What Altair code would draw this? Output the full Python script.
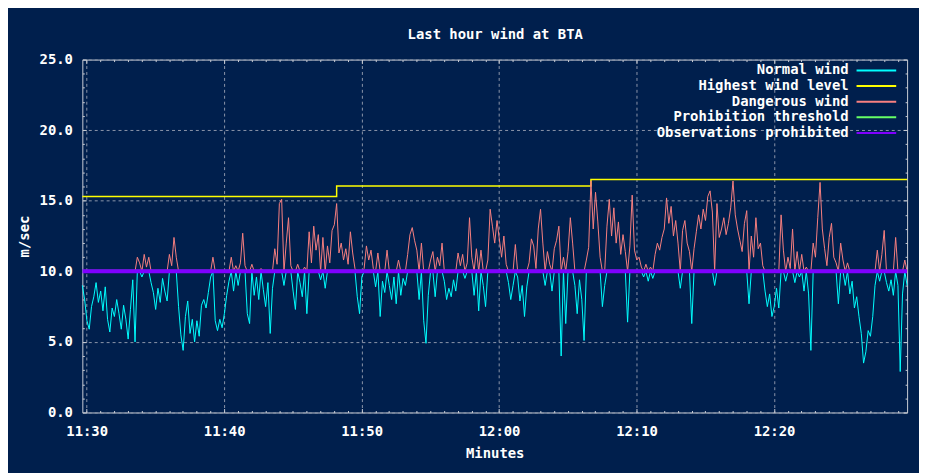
import altair as alt
import pandas as pd

# ---------------- data ----------------
wind = [
    9.0, 8.0, 6.5, 5.9, 7.5, 8.2, 9.2, 7.8, 8.6, 7.2,
    8.9, 6.6, 5.7, 7.4, 6.8, 8.0, 7.0, 5.9, 7.6, 6.6,
    5.2, 7.3, 9.4, 5.0, 11.0, 10.6, 9.6, 11.2, 10.3, 11.0,
    9.2, 8.5, 7.3, 8.8, 7.8, 9.5, 8.6, 7.9, 11.2, 10.4,
    12.4, 11.0, 7.5, 5.5, 4.4, 6.8, 7.9, 5.6, 6.6, 5.0,
    6.5, 5.4, 7.6, 8.0, 7.4, 8.5, 9.6, 11.0, 6.5, 5.8,
    6.6, 6.0, 7.0, 8.3, 9.3, 11.0, 8.6, 10.4, 9.0, 10.6,
    12.7, 10.4, 7.0, 6.3, 10.5, 8.3, 9.6, 8.0, 10.2, 8.7,
    7.5, 9.2, 5.6, 8.8, 11.6, 10.5, 14.8, 15.1, 9.0, 12.0,
    13.8, 10.4, 8.6, 7.3, 10.5, 9.2, 8.2, 10.3, 7.0, 12.8,
    10.6, 13.2, 11.5, 12.6, 9.4, 12.4, 8.8, 11.8, 10.6, 12.9,
    13.3, 14.8, 11.3, 12.0, 10.8, 11.6, 10.5, 12.8, 11.3, 10.2,
    8.2, 7.0, 9.6, 10.2, 11.8, 10.8, 11.5, 10.2, 8.9, 11.3,
    6.8, 9.3, 8.5, 11.5, 9.0, 8.0, 9.6, 7.7, 10.8, 8.3,
    9.5, 9.0, 11.2, 12.6, 13.1, 12.2, 11.5, 8.0, 12.0, 6.5,
    4.9, 8.3, 10.8, 11.4, 8.2, 11.0, 10.4, 12.0, 9.3, 8.0,
    8.8, 8.2, 9.4, 8.6, 11.3, 10.4, 11.2, 9.5, 10.6, 13.8,
    11.0, 8.3, 11.6, 7.2, 11.5, 9.0, 7.5, 10.8, 14.4, 13.2,
    12.0, 13.6, 12.3, 11.0, 12.5, 10.5, 9.2, 8.0, 9.0, 11.9,
    9.6, 7.9, 9.0, 6.8, 8.9, 10.6, 12.3, 11.8, 10.2, 13.0,
    14.4, 12.0, 9.0, 11.4, 10.5, 8.6, 11.6, 12.2, 13.2, 4.0,
    11.0, 6.3, 11.4, 13.8, 12.0, 9.0, 7.0, 9.4, 8.0, 5.1,
    10.8, 11.7, 16.4, 13.0, 15.6, 13.5, 11.0, 7.5, 9.0, 13.2,
    15.1, 12.5, 14.5, 12.0, 13.5, 11.2, 12.6, 11.4, 6.4, 11.8,
    15.4, 11.5, 10.8, 11.0, 10.3, 9.6, 10.5, 9.3, 10.3, 9.5,
    11.2, 12.0, 11.5, 12.4, 13.0, 15.2, 13.4, 14.6, 12.5, 13.6,
    12.0, 8.8, 12.9, 13.6, 12.0, 11.4, 6.3, 11.6, 12.8, 14.0,
    13.0, 14.4, 13.6, 15.3, 15.7, 14.2, 9.0, 14.8, 12.4, 13.0,
    13.8, 12.6, 13.4, 14.5, 16.4, 14.0, 13.0, 12.2, 11.4, 13.4,
    14.3, 7.7, 12.5, 11.0, 13.8, 11.6, 12.0, 10.4, 8.6, 7.5,
    8.4, 6.8, 7.5, 8.8, 7.4, 14.0, 11.5, 9.3, 11.0, 10.2,
    13.0, 9.2, 11.4, 9.6, 11.2, 8.6, 10.3, 8.4, 4.4, 12.0,
    11.0, 13.8, 16.3, 13.0, 11.6, 10.4, 12.4, 13.4, 11.0, 10.6,
    7.7, 12.0, 10.8, 9.0, 10.6, 8.4, 9.3, 7.4, 8.2, 6.8,
    5.6, 3.5, 4.3, 5.8, 5.4, 6.8, 9.0, 11.5, 9.3, 11.2,
    12.9, 9.2, 8.6, 9.4, 8.3, 12.4, 9.0, 2.9, 8.4, 10.8,
    9.0,
]
start_time = "2010-11-28T11:29:41"
end_time = "2010-11-28T12:29:41"
sample_step = "10s"
threshold = 10.0
highest_times = ["2010-11-28T11:29:41", "2010-11-28T11:48:11",
                 "2010-11-28T12:06:41", "2010-11-28T12:29:41"]
highest_values = [15.3, 16.05, 16.5, 16.5]

series_names = ["Normal wind", "Highest wind level", "Dangerous wind",
                "Prohibition threshold", "Observations prohibited"]
series_colors = ["#00ffff", "#ffff00", "#f88080", "#66ff66", "#8000ff"]
series_widths = [1, 1.5, 1, 3, 4]

y_major = [0, 5, 10, 15, 20, 25]
y_minor = list(range(0, 26))
x_major = [(11, 30), (11, 40), (11, 50), (12, 0), (12, 10), (12, 20)]
x_minor = [(11, m) for m in range(30, 60)] + [(12, m) for m in range(0, 30)]

title_text = "Last hour wind at BTA"
stamp_text = "Sun Nov 28 12:29:41 2010"

# ---------------- table ----------------
times = pd.date_range(start_time, periods=len(wind), freq=sample_step).strftime("%Y-%m-%dT%H:%M:%S")
rows = []
for t, v in zip(times, wind):
    rows.append({"t": t, "v": min(v, threshold), "s": series_names[0]})
    rows.append({"t": t, "v": max(v, threshold), "s": series_names[2]})
for t, v in zip(highest_times, highest_values):
    rows.append({"t": t, "v": v, "s": series_names[1]})
for t in (start_time, end_time):
    rows.append({"t": t, "v": threshold, "s": series_names[3]})
    rows.append({"t": t, "v": threshold, "s": series_names[4]})
df = pd.DataFrame(rows)

# ---------------- style ----------------
W, H = 832, 356
FONT = "DejaVu Sans Mono"
BG = "#001f4d"
FRAME = "#c8ccd4"
GRID = "#8c96aa"


def dtm(h, m, s=0):
    return alt.DateTime(year=2010, month=11, date=28, hours=h, minutes=m, seconds=s)


x_scale = alt.Scale(domain=[dtm(11, 29, 41), dtm(12, 29, 41)], nice=False)
y_scale = alt.Scale(domain=[0, 25], nice=False, zero=False)

txt = dict(labelFont=FONT, labelFontSize=14, labelFontWeight="bold", labelColor="white",
           titleFont=FONT, titleFontSize=14, titleFontWeight="bold", titleColor="white")

x_main = alt.Axis(orient="bottom", values=[dtm(h, m) for h, m in x_major], format="%H:%M",
                  grid=True, gridColor=GRID, gridDash=[3, 3], gridWidth=1,
                  ticks=False, tickSize=0, domain=False, labelPadding=12,
                  labelFlush=False, labelOverlap=False,
                  title="Minutes", titlePadding=8, **txt)
y_main = alt.Axis(orient="left", values=y_major, format=".1f",
                  grid=True, gridColor=GRID, gridDash=[3, 3], gridWidth=1,
                  ticks=False, tickSize=0, domain=False, labelPadding=10,
                  title="m/sec", titlePadding=8, **txt)
x_title = alt.Axis(orient="top", values=[dtm(h, m) for h, m in x_major], labels=False,
                   ticks=False, domain=False, grid=False, title=title_text,
                   titlePadding=18, **txt)

x_tick_len = {"condition": {"test": "minutes(datum.value) % 10 === 0", "value": 4}, "value": 2}
y_tick_len = {"condition": {"test": "datum.value % 5 === 0", "value": 4}, "value": 2}
tick_style = dict(labels=False, grid=False, domain=False, ticks=True,
                  tickColor=FRAME, tickWidth=1, title=None)
x_ticks_bottom = alt.Axis(orient="top", offset=-H, values=[dtm(h, m) for h, m in x_minor],
                          tickSize=x_tick_len, **tick_style)
x_ticks_top = alt.Axis(orient="bottom", offset=-H, values=[dtm(h, m) for h, m in x_minor],
                       tickSize=x_tick_len, **tick_style)
y_ticks_left = alt.Axis(orient="right", offset=-W, values=y_minor, tickSize=y_tick_len, **tick_style)
y_ticks_right = alt.Axis(orient="left", offset=-W, values=y_minor, tickSize=y_tick_len, **tick_style)

legend = alt.Legend(title=None, orient="none", legendX=774, legendY=4,
                    symbolType="M0,0H8", symbolSize=100, symbolStrokeWidth=2,
                    labelAlign="right", labelOffset=alt.ExprRef(expr="-15"), labelLimit=0,
                    labelFont=FONT, labelFontSize=14, labelFontWeight="bold",
                    labelColor="white", rowPadding=1.75, padding=0)

base = alt.Chart(df)


def layer(idx, xaxis, yaxis, interp="linear"):
    name = series_names[idx]
    return base.transform_filter(alt.datum.s == name).mark_line(
        interpolate=interp, strokeWidth=series_widths[idx]
    ).encode(
        x=alt.X("t:T", scale=x_scale, axis=xaxis),
        y=alt.Y("v:Q", scale=y_scale, axis=yaxis),
        color=alt.Color("s:N", scale=alt.Scale(domain=series_names, range=series_colors), legend=legend),
    )


chart = alt.layer(
    layer(0, x_main, y_main),
    layer(1, x_title, y_ticks_left, "step-after"),
    layer(2, x_ticks_bottom, y_ticks_right),
    layer(3, x_ticks_top, None),
    layer(4, None, None),
).resolve_axis(x="independent", y="independent").properties(
    width=W, height=H,
    autosize=alt.AutoSizeParams(type="none"),
    padding={"left": 75, "top": 50, "right": 12, "bottom": 59},
    title=alt.TitleParams(stamp_text, orient="bottom", anchor="start", frame="group",
                          dx=-52, offset=50, font=FONT, fontSize=14, fontWeight="bold",
                          color="white"),
).configure(background=BG).configure_view(stroke=FRAME, strokeWidth=1)

chart.save("out.html", embed_options={"renderer": "svg", "actions": False})
